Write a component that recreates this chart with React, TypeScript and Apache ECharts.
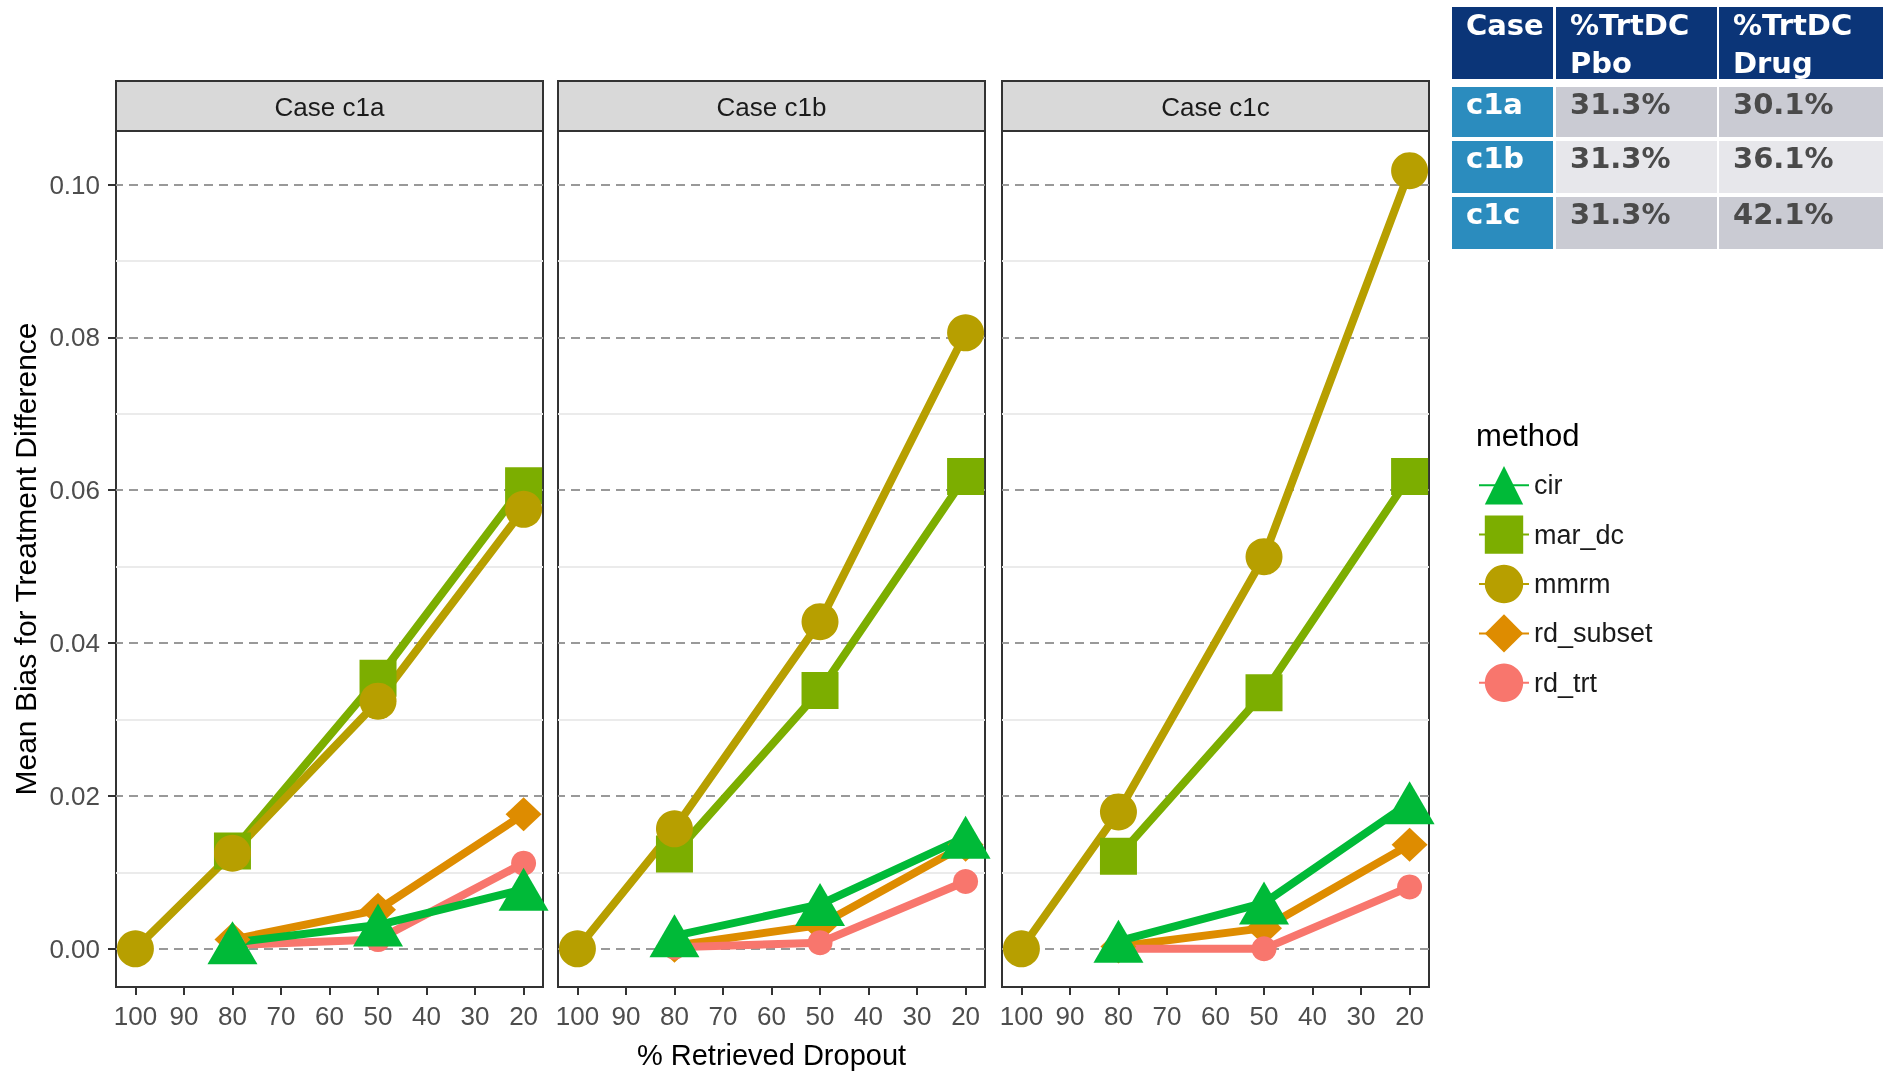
import React, { useEffect, useRef } from "react";
import * as echarts from "echarts";

// ---------- data ----------
const retrievedPct = [100, 80, 50, 20];
const caseIds = ["c1a", "c1b", "c1c"];
const methodOrder = ["cir", "mar_dc", "mmrm", "rd_subset", "rd_trt"];

// Mean bias per case, aligned with retrievedPct (null = not estimated)
const c1aCir = [null, 0.0008, 0.0031, 0.0078];
const c1aMarDc = [null, 0.0128, 0.0354, 0.0606];
const c1aMmrm = [0.0, 0.0125, 0.0324, 0.0575];
const c1aRdSubset = [null, 0.0012, 0.0051, 0.0176];
const c1aRdTrt = [null, 0.0005, 0.0012, 0.0112];

const c1bCir = [null, 0.0017, 0.0058, 0.0146];
const c1bMarDc = [null, 0.0124, 0.0338, 0.0618];
const c1bMmrm = [0.0, 0.0157, 0.0428, 0.0806];
const c1bRdSubset = [null, 0.0004, 0.0031, 0.0136];
const c1bRdTrt = [null, 0.0002, 0.0008, 0.0088];

const c1cCir = [null, 0.001, 0.006, 0.0191];
const c1cMarDc = [null, 0.0121, 0.0335, 0.0618];
const c1cMmrm = [0.0, 0.0179, 0.0513, 0.1018];
const c1cRdSubset = [null, 0.0003, 0.0027, 0.0136];
const c1cRdTrt = [null, 0.0, 0.0, 0.0081];

const xTicks = [20, 30, 40, 50, 60, 70, 80, 90, 100];
const yTicks = [0, 0.02, 0.04, 0.06, 0.08, 0.1];
const yMinorTicks = [0.01, 0.03, 0.05, 0.07, 0.09];

// table
const tableHeader = [["Case"], ["%TrtDC", "Pbo"], ["%TrtDC", "Drug"]];
const tableCases = ["c1a", "c1b", "c1c"];
const tablePbo = ["31.3%", "31.3%", "31.3%"];
const tableDrug = ["30.1%", "36.1%", "42.1%"];

const seriesByCase: Record<string, Record<string, (number | null)[]>> = {
  c1a: { cir: c1aCir, mar_dc: c1aMarDc, mmrm: c1aMmrm, rd_subset: c1aRdSubset, rd_trt: c1aRdTrt },
  c1b: { cir: c1bCir, mar_dc: c1bMarDc, mmrm: c1bMmrm, rd_subset: c1bRdSubset, rd_trt: c1bRdTrt },
  c1c: { cir: c1cCir, mar_dc: c1cMarDc, mmrm: c1cMmrm, rd_subset: c1cRdSubset, rd_trt: c1cRdTrt },
};

// ---------- styles ----------
const methodStyle: Record<string, { color: string; symbol: string; size: number | number[] }> = {
  cir: { color: "#00BA38", symbol: "triangle", size: [50, 43] },
  mar_dc: { color: "#7CAE00", symbol: "rect", size: 37 },
  mmrm: { color: "#B79F00", symbol: "circle", size: 37 },
  rd_subset: { color: "#DE8C00", symbol: "diamond", size: [36, 34] },
  rd_trt: { color: "#F8766D", symbol: "circle", size: 25 },
};
const drawOrder = ["mar_dc", "mmrm", "rd_subset", "rd_trt", "cir"];

const FONT = "Liberation Sans, Arial, sans-serif";
const PANEL_LEFT = [116, 558, 1002];
const PANEL_W = 427;
const PANEL_TOP = 131;
const PANEL_H = 856;
const STRIP_TOP = 81;

export default function App() {
  const ref = useRef<HTMLDivElement>(null);
  useEffect(() => {
    if (!ref.current) return;
    const chart = echarts.init(ref.current, undefined, { renderer: "svg" });

    const grid = PANEL_LEFT.map((l) => ({
      left: l,
      top: PANEL_TOP,
      width: PANEL_W,
      height: PANEL_H,
      containLabel: false,
      outerBoundsMode: "none",
      show: true,
      borderColor: "#333333",
      borderWidth: 2,
      backgroundColor: "transparent",
      z: 0,
    }));

    const xAxis = PANEL_LEFT.map((_, i) => ({
      type: "value",
      gridIndex: i,
      min: 16,
      max: 104,
      inverse: true,
      axisLine: { show: false, onZero: false },
      splitLine: { show: false },
      axisTick: { show: true, length: 8, customValues: xTicks, lineStyle: { color: "#333", width: 2 } },
      axisLabel: { customValues: xTicks, fontSize: 26, color: "#4d4d4d", margin: 16, fontFamily: FONT },
      name: i === 1 ? "% Retrieved Dropout" : "",
      nameLocation: "middle",
      nameGap: 53,
      nameTextStyle: { fontSize: 29, color: "#000", fontFamily: FONT },
    }));

    const yAxis = PANEL_LEFT.map((_, i) => ({
      type: "value",
      gridIndex: i,
      min: -0.005,
      max: 0.107,
      axisLine: { show: false, onZero: false },
      splitLine: { show: false },
      axisTick: { show: i === 0, length: 8, customValues: yTicks, lineStyle: { color: "#333", width: 2 } },
      axisLabel: {
        show: i === 0,
        customValues: yTicks,
        formatter: (v: number) => v.toFixed(2),
        fontSize: 26,
        color: "#4d4d4d",
        margin: 16,
        fontFamily: FONT,
      },
      name: i === 0 ? "Mean Bias for Treatment Difference" : "",
      nameLocation: "middle",
      nameRotate: 90,
      nameGap: 76,
      nameTextStyle: { fontSize: 30, color: "#000", fontFamily: FONT },
    }));

    const series: any[] = [];
    caseIds.forEach((cid, i) => {
      series.push({
        type: "line",
        xAxisIndex: i,
        yAxisIndex: i,
        data: [],
        silent: true,
        z: 1,
        markLine: {
          silent: true,
          z: 1,
          symbol: ["none", "none"],
          label: { show: false },
          emphasis: { disabled: true },
          data: [
            ...yMinorTicks.map((v) => ({ yAxis: v, lineStyle: { color: "#ebebeb", width: 2, type: "solid" } })),
            ...yTicks.map((v) => ({ yAxis: v, lineStyle: { color: "#999999", width: 2, type: [9, 6] } })),
          ],
        },
      });
      drawOrder.forEach((m) => {
        const vals = seriesByCase[cid][m];
        const st = methodStyle[m];
        const data = retrievedPct
          .map((x, k) => (vals[k] === null ? null : [x, vals[k]]))
          .filter((d) => d !== null);
        series.push({
          type: "line",
          name: m,
          xAxisIndex: i,
          yAxisIndex: i,
          data,
          symbol: st.symbol,
          symbolSize: st.size,
          showSymbol: true,
          z: 3,
          itemStyle: { color: st.color, opacity: 1 },
          lineStyle: { color: st.color, width: 8 },
          emphasis: { disabled: true },
        });
      });
    });

    const graphic: any[] = [];
    caseIds.forEach((cid, i) => {
      graphic.push({
        type: "rect",
        shape: { x: PANEL_LEFT[i], y: STRIP_TOP, width: PANEL_W, height: PANEL_TOP - STRIP_TOP },
        style: { fill: "#d9d9d9", stroke: "#333333", lineWidth: 2 },
      });
      graphic.push({
        type: "text",
        x: PANEL_LEFT[i] + PANEL_W / 2,
        y: (STRIP_TOP + PANEL_TOP) / 2 + 1,
        style: {
          text: "Case " + cid,
          fill: "#1a1a1a",
          fontSize: 26,
          fontFamily: FONT,
          align: "center",
          verticalAlign: "middle",
        },
      });
    });
    graphic.push({
      type: "text",
      x: 1476,
      y: 435,
      style: { text: "method", fill: "#000", fontSize: 31, fontFamily: FONT, verticalAlign: "middle" },
    });

    // table
    const colX = [1452, 1556, 1719];
    const colW = [101, 161, 170];
    const rowY = [87, 141, 197];
    const rowH = [50, 52, 52];
    const TFONT = "DejaVu Sans, Verdana, sans-serif";
    tableHeader.forEach((lines, c) => {
      graphic.push({
        type: "rect",
        shape: { x: colX[c], y: 7, width: colW[c], height: 72 },
        style: { fill: "#0b3578" },
      });
      lines.forEach((t, li) => {
        graphic.push({
          type: "text",
          x: colX[c] + 14,
          y: 25 + li * 38,
          style: { text: t, fill: "#ffffff", fontSize: 29, fontWeight: "bold", fontFamily: TFONT, verticalAlign: "middle" },
        });
      });
    });
    tableCases.forEach((cs, r) => {
      const cells = [cs, tablePbo[r], tableDrug[r]];
      cells.forEach((t, c) => {
        const fill = c === 0 ? "#2b8cbe" : r === 1 ? "#e7e7eb" : "#cacbd3";
        graphic.push({
          type: "rect",
          shape: { x: colX[c], y: rowY[r], width: colW[c], height: rowH[r] },
          style: { fill },
        });
        graphic.push({
          type: "text",
          x: colX[c] + 14,
          y: rowY[r] + 17,
          style: {
            text: t,
            fill: c === 0 ? "#ffffff" : "#4a4a4a",
            fontSize: 29,
            fontWeight: "bold",
            fontFamily: TFONT,
            verticalAlign: "middle",
          },
        });
      });
    });

    chart.setOption({
      animation: false,
      textStyle: { fontFamily: FONT },
      grid,
      xAxis,
      yAxis,
      series,
      legend: {
        data: methodOrder,
        orient: "vertical",
        left: 1473,
        top: 461,
        itemWidth: 50,
        itemHeight: 48,
        itemGap: 11,
        selectedMode: false,
        textStyle: { fontSize: 27, color: "#1a1a1a", fontFamily: FONT },
      },
      graphic,
    });
    return () => chart.dispose();
  }, []);
  return <div ref={ref} style={{ position: "fixed", left: 0, top: 0, width: 1883, height: 1073 }} />;
}
